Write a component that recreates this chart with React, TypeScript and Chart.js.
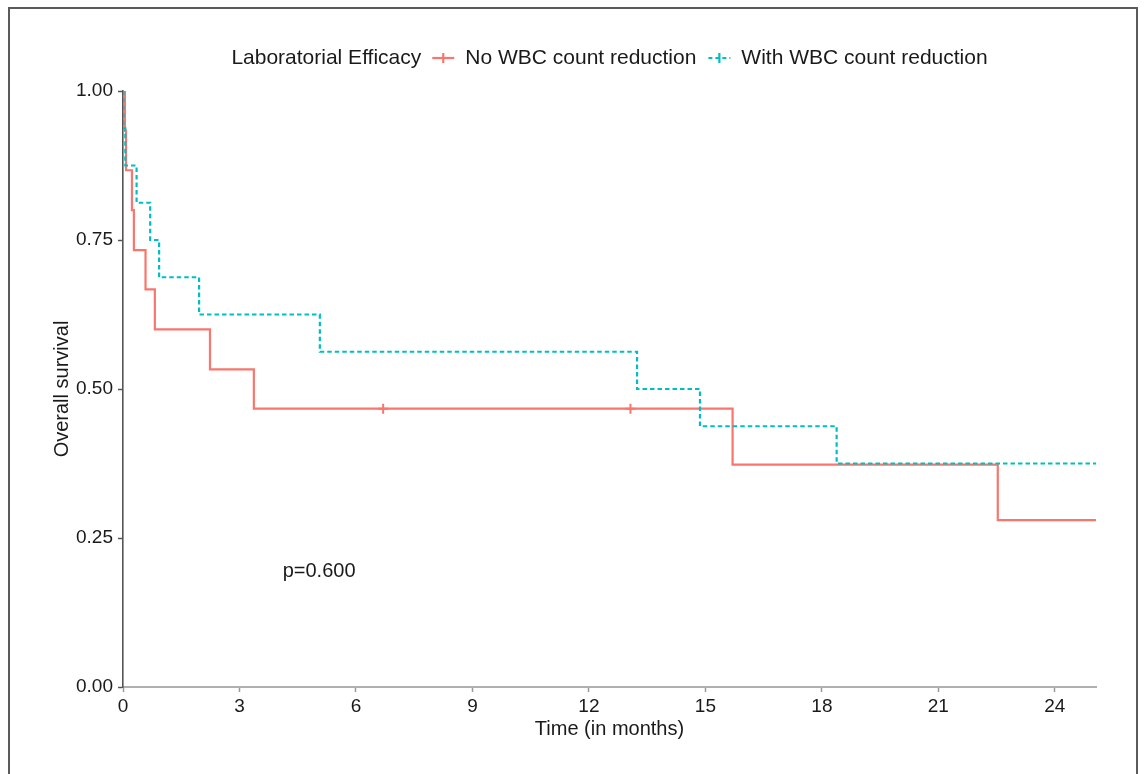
import React, { useEffect, useRef } from 'react';
import { Chart, registerables } from 'chart.js';

Chart.register(...registerables);

// ---- data ----
const groupTitle = 'Laboratorial Efficacy';
const seriesNames = ['No WBC count reduction', 'With WBC count reduction'];

// Kaplan-Meier: "No WBC count reduction"
const noRedTimes = [0, 0.05, 0.08, 0.23, 0.28, 0.58, 0.82, 2.24, 3.37, 15.7, 22.53, 25.06];
const noRedSurv = [1, 0.933, 0.867, 0.8, 0.733, 0.667, 0.6, 0.533, 0.467, 0.373, 0.28, 0.28];
const noRedCensorTimes = [6.7, 13.07];
const noRedCensorSurv = [0.467, 0.467];

// Kaplan-Meier: "With WBC count reduction"
const withRedTimes = [0, 0.01, 0.06, 0.35, 0.7, 0.93, 1.96, 5.07, 13.24, 14.86, 18.38, 25.06];
const withRedSurv = [1, 0.9375, 0.875, 0.8125, 0.75, 0.6875, 0.625, 0.5625, 0.5, 0.4375, 0.375, 0.375];

const xTickValues = [0, 3, 6, 9, 12, 15, 18, 21, 24];
const yTickValues = [0, 0.25, 0.5, 0.75, 1];
const xMax = 25.06;
const xLabel = 'Time (in months)';
const yLabel = 'Overall survival';
const pValueText = 'p=0.600';
const pValuePos = [5.05, 0.193];

const RED = '#F8766D';
const TEAL = '#00BFC4';
const FONT = '"Liberation Sans", Arial, Helvetica, sans-serif';
const TEXT = '#1a1a1a';

const legendPlugin = {
  id: 'kmLegend',
  afterDraw(chart: any) {
    const { ctx, chartArea } = chart;
    ctx.save();
    ctx.font = `21px ${FONT}`;
    ctx.textBaseline = 'middle';
    ctx.textAlign = 'left';
    const keyW = 22;
    const gap = 11;
    const gapBetween = 12;
    const titleW = ctx.measureText(groupTitle).width;
    const w1 = ctx.measureText(seriesNames[0]).width;
    const w2 = ctx.measureText(seriesNames[1]).width;
    const total = titleW + gap + keyW + gap + w1 + gapBetween + keyW + gap + w2;
    let x = (chartArea.left + chartArea.right) / 2 - total / 2;
    const y = 58;
    ctx.fillStyle = TEXT;
    ctx.fillText(groupTitle, x, y);
    x += titleW + gap;
    const drawKey = (kx: number, color: string, dash: number[]) => {
      ctx.save();
      ctx.strokeStyle = color;
      ctx.lineWidth = 2.2;
      ctx.setLineDash(dash);
      ctx.beginPath();
      ctx.moveTo(kx, y);
      ctx.lineTo(kx + keyW, y);
      ctx.stroke();
      ctx.setLineDash([]);
      ctx.beginPath();
      ctx.moveTo(kx + keyW / 2, y - 5);
      ctx.lineTo(kx + keyW / 2, y + 5);
      ctx.stroke();
      ctx.restore();
    };
    drawKey(x, RED, []);
    x += keyW + gap;
    ctx.fillStyle = TEXT;
    ctx.fillText(seriesNames[0], x, y);
    x += w1 + gapBetween;
    drawKey(x, TEAL, [4, 3]);
    x += keyW + gap;
    ctx.fillStyle = TEXT;
    ctx.fillText(seriesNames[1], x, y);
    ctx.restore();
  },
};

const pValuePlugin = {
  id: 'pValue',
  afterDraw(chart: any) {
    const { ctx, scales } = chart;
    ctx.save();
    ctx.font = `20px ${FONT}`;
    ctx.fillStyle = TEXT;
    ctx.textAlign = 'center';
    ctx.textBaseline = 'middle';
    ctx.fillText(pValueText, scales.x.getPixelForValue(pValuePos[0]), scales.y.getPixelForValue(pValuePos[1]));
    ctx.restore();
  },
};

export default function App() {
  const canvasRef = useRef<HTMLCanvasElement | null>(null);

  useEffect(() => {
    if (!canvasRef.current) return;
    const chart = new Chart(canvasRef.current, {
      type: 'line',
      data: {
        datasets: [
          {
            label: seriesNames[1],
            data: withRedTimes.map((t, i) => ({ x: t, y: withRedSurv[i] })),
            borderColor: TEAL,
            borderWidth: 2.2,
            borderDash: [4.5, 3],
            stepped: 'before',
            pointRadius: 0,
            fill: false,
            order: 0,
          },
          {
            label: seriesNames[0],
            data: noRedTimes.map((t, i) => ({ x: t, y: noRedSurv[i] })),
            borderColor: RED,
            borderWidth: 2.2,
            stepped: 'before',
            pointRadius: 0,
            fill: false,
            order: 1,
          },
          {
            label: 'censored',
            data: noRedCensorTimes.map((t, i) => ({ x: t, y: noRedCensorSurv[i] })),
            showLine: false,
            pointStyle: 'cross',
            pointRadius: 5,
            pointBorderWidth: 2,
            borderColor: RED,
            backgroundColor: RED,
            order: 1,
          } as any,
        ],
      },
      options: {
        animation: false,
        responsive: true,
        maintainAspectRatio: false,
        layout: { padding: { top: 91, right: 49, bottom: 0, left: 0 } },
        plugins: {
          legend: { display: false },
          tooltip: { enabled: false },
        },
        scales: {
          x: {
            type: 'linear',
            min: 0,
            max: xMax,
            afterBuildTicks: (scale: any) => {
              scale.ticks = xTickValues.map((v) => ({ value: v }));
            },
            afterFit: (scale: any) => {
              scale.height = 87;
            },
            ticks: {
              color: TEXT,
              font: { family: FONT, size: 19 },
              padding: 3,
              maxRotation: 0,
              callback: (v: any) => String(v),
            },
            grid: {
              drawOnChartArea: false,
              drawTicks: true,
              tickLength: 5,
              color: '#9a9a9a',
              tickWidth: 1.5,
            },
            border: { display: true, color: '#b0b0b0', width: 2 },
            title: {
              display: true,
              text: xLabel,
              color: TEXT,
              font: { family: FONT, size: 20 },
              padding: { top: 0, bottom: 33 },
            },
          },
          y: {
            type: 'linear',
            min: 0,
            max: 1,
            afterBuildTicks: (scale: any) => {
              scale.ticks = yTickValues.map((v) => ({ value: v }));
            },
            afterFit: (scale: any) => {
              scale.width = 123;
            },
            ticks: {
              color: TEXT,
              font: { family: FONT, size: 19 },
              padding: 5,
              callback: (v: any) => Number(v).toFixed(2),
            },
            grid: {
              drawOnChartArea: false,
              drawTicks: true,
              tickLength: 5,
              color: '#555',
              tickWidth: 1.5,
            },
            border: { display: true, color: '#555', width: 1.6 },
            title: {
              display: true,
              text: yLabel,
              color: TEXT,
              font: { family: FONT, size: 20 },
              padding: { top: 50, bottom: 0 },
            },
          },
        },
      },
      plugins: [legendPlugin, pValuePlugin],
    } as any);
    return () => chart.destroy();
  }, []);

  return (
    <div style={{ position: 'fixed', left: 0, top: 0, width: 1145, height: 774, background: '#fff', overflow: 'hidden' }}>
      <canvas ref={canvasRef} />
      <div
        style={{
          position: 'absolute',
          left: 8,
          top: 7,
          width: 1130,
          height: 800,
          boxSizing: 'border-box',
          borderTop: '2px solid #5a5a5a',
          borderLeft: '2px solid #5a5a5a',
          borderRight: '2px solid #5a5a5a',
          pointerEvents: 'none',
        }}
      />
    </div>
  );
}
